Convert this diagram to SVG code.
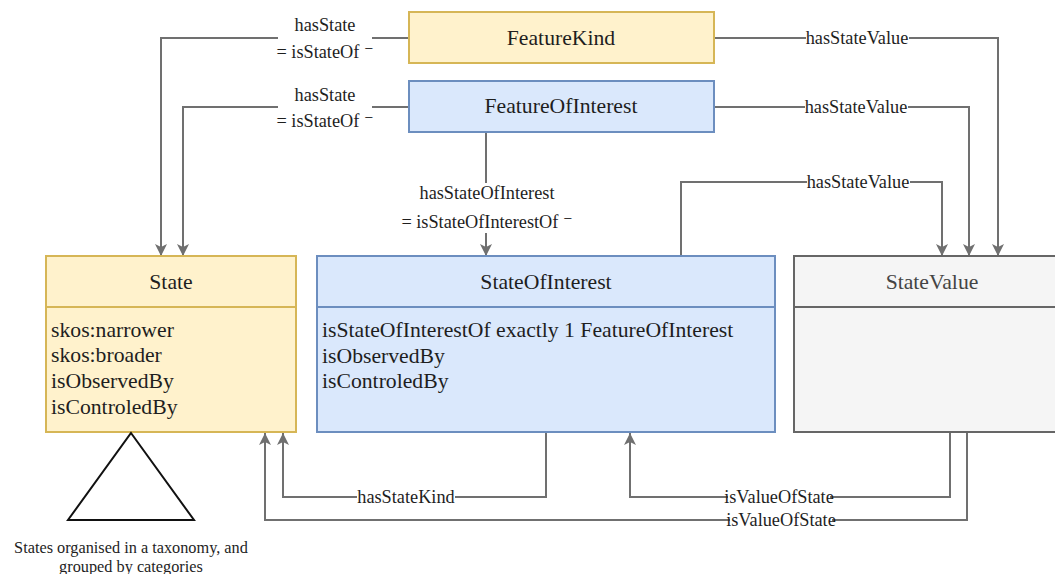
<svg xmlns="http://www.w3.org/2000/svg" width="1055" height="574" viewBox="0 0 1055 574" font-family="'Liberation Serif', 'DejaVu Serif', serif">
<style>
  text { font-family: "Liberation Serif", "DejaVu Serif", serif; fill: #1e1e1e; }
  .title { font-size: 21.7px; text-anchor: middle; }
  .body { font-size: 21.7px; }
  .lbl { font-size: 18.3px; text-anchor: middle; }
  .note { font-size: 16.3px; text-anchor: middle; }
  .conn { fill: none; stroke: #707070; stroke-width: 2; marker-end: url(#arr); }
  .bg { fill: #ffffff; }
  .yellow { fill: #fff2cc; stroke: #d6b656; stroke-width: 2; }
  .blue { fill: #dae8fc; stroke: #6c8ebf; stroke-width: 2; }
  .grey { fill: #f5f5f5; stroke: #666666; stroke-width: 2; }
</style>
<defs>
  <marker id="arr" viewBox="0 0 12 12" refX="12" refY="6" markerWidth="12" markerHeight="12" markerUnits="userSpaceOnUse" orient="auto">
    <path d="M0,0 L12,6 L0,12 L3,6 z" fill="#707070"/>
  </marker>
</defs>
<rect width="1055" height="574" fill="#ffffff"/>

<g id="connectors">
  <path class="conn" d="M409,38 H161 V256"/>
  <path class="conn" d="M409,107 H183 V256"/>
  <path class="conn" d="M714,38 H998 V256"/>
  <path class="conn" d="M714,107 H969 V256"/>
  <path class="conn" d="M681,256 V182 H942 V256"/>
  <path class="conn" d="M486,132 V256"/>
  <path class="conn" d="M546,432 V497 H283 V433"/>
  <path class="conn" d="M950,432 V497 H630 V433"/>
  <path class="conn" d="M967,432 V520 H265 V433"/>

  <rect class="bg" x="278" y="14" width="94" height="50"/>
  <text class="lbl" x="325" y="31">hasState</text>
  <text class="lbl" x="325" y="58">= isStateOf ⁻</text>

  <rect class="bg" x="278" y="83" width="94" height="49"/>
  <text class="lbl" x="325" y="101">hasState</text>
  <text class="lbl" x="325" y="127">= isStateOf ⁻</text>

  <rect class="bg" x="806" y="28" width="103" height="20"/>
  <text class="lbl" x="857" y="44">hasStateValue</text>
  <rect class="bg" x="805" y="97" width="103" height="20"/>
  <text class="lbl" x="856" y="113">hasStateValue</text>
  <rect class="bg" x="807" y="172" width="103" height="20"/>
  <text class="lbl" x="858" y="188">hasStateValue</text>

  <rect class="bg" x="400" y="183" width="175" height="50"/>
  <text class="lbl" x="487" y="199">hasStateOfInterest</text>
  <text class="lbl" x="487" y="228">= isStateOfInterestOf ⁻</text>

  <rect class="bg" x="357" y="487" width="98" height="20"/>
  <text class="lbl" x="406" y="503">hasStateKind</text>
  <rect class="bg" x="728" y="487" width="102" height="20"/>
  <text class="lbl" x="779" y="503">isValueOfState</text>
  <rect class="bg" x="730" y="510" width="102" height="20"/>
  <text class="lbl" x="781" y="526">isValueOfState</text>
</g>

<g id="FeatureKind">
  <rect class="yellow" x="409" y="12" width="305" height="51"/>
  <text class="title" x="561" y="45">FeatureKind</text>
</g>

<g id="FeatureOfInterest">
  <rect class="blue" x="409" y="81" width="305" height="51"/>
  <text class="title" x="561" y="113">FeatureOfInterest</text>
</g>

<g id="State">
  <rect class="yellow" x="46" y="256" width="250" height="176"/>
  <line x1="46" y1="307" x2="296" y2="307" stroke="#d6b656" stroke-width="2"/>
  <text class="title" x="171" y="289">State</text>
  <text class="body" x="51" y="337">skos:narrower</text>
  <text class="body" x="51" y="362">skos:broader</text>
  <text class="body" x="51" y="388">isObservedBy</text>
  <text class="body" x="51" y="414">isControledBy</text>
</g>

<g id="StateOfInterest">
  <rect class="blue" x="317" y="256" width="458" height="176"/>
  <line x1="317" y1="307" x2="775" y2="307" stroke="#6c8ebf" stroke-width="2"/>
  <text class="title" x="546" y="289">StateOfInterest</text>
  <text class="body" x="322" y="337">isStateOfInterestOf exactly 1 FeatureOfInterest</text>
  <text class="body" x="322" y="363">isObservedBy</text>
  <text class="body" x="322" y="388">isControledBy</text>
</g>

<g id="StateValue">
  <rect class="grey" x="794" y="256" width="276" height="176"/>
  <line x1="794" y1="307" x2="1070" y2="307" stroke="#666666" stroke-width="2"/>
  <text class="title" x="932" y="289" style="fill:#444">StateValue</text>
</g>

<g id="Taxonomy">
  <polygon points="131,433 194,520 68,520" fill="#ffffff" stroke="#111111" stroke-width="2"/>
  <text class="note" x="131" y="553">States organised in a taxonomy, and</text>
  <text class="note" x="131" y="572">grouped by categories</text>
</g>
</svg>
